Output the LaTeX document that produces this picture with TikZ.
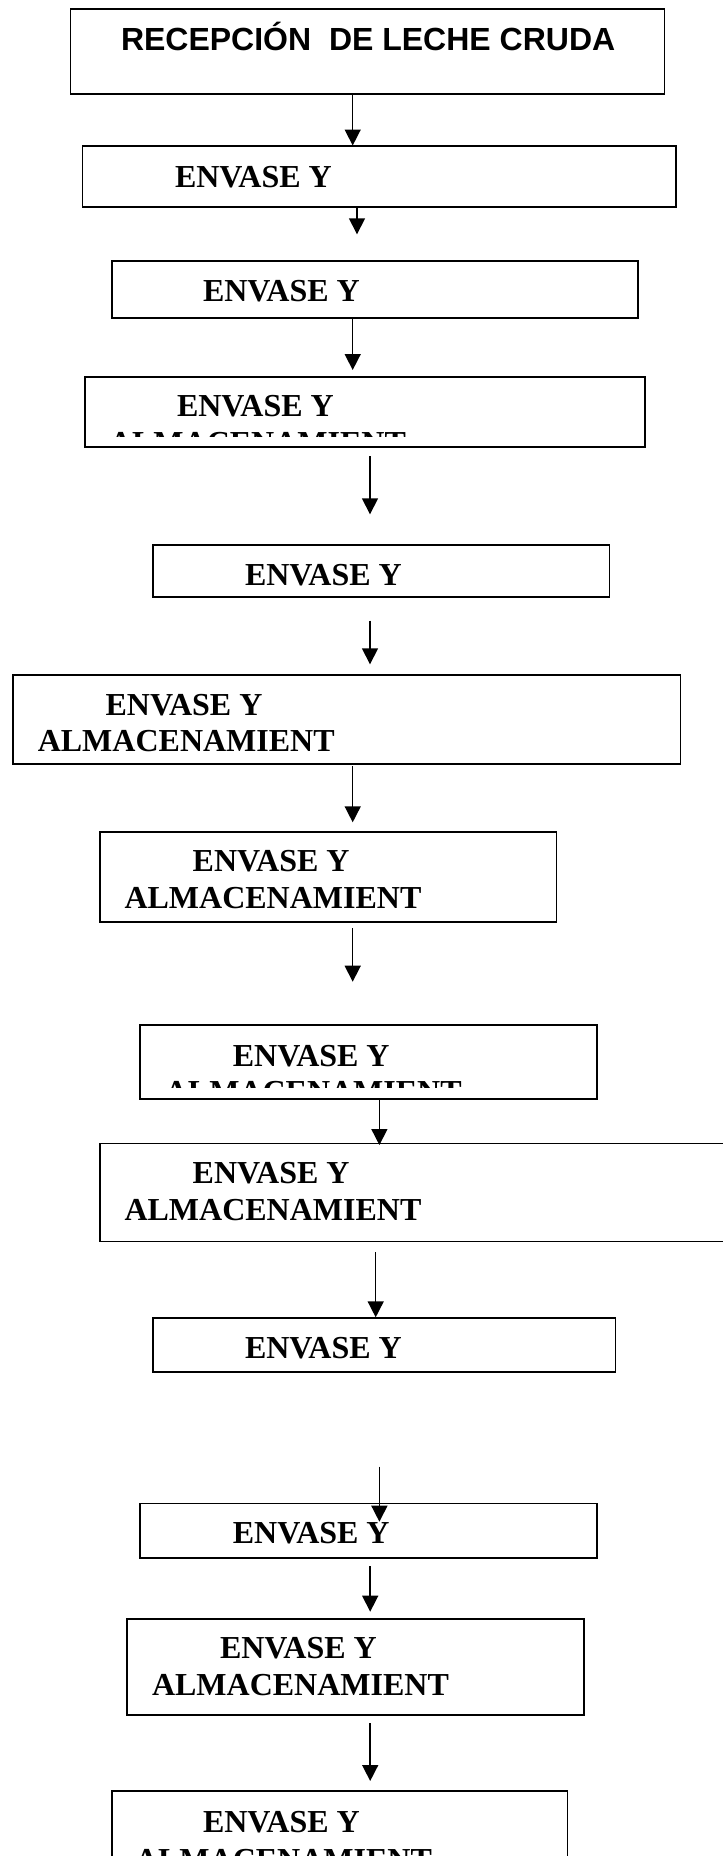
\documentclass[tikz,border=0pt]{standalone}
\usepackage{fontspec}
\setmainfont{Liberation Serif}
\newfontfamily\arialf{Liberation Sans}
\usetikzlibrary{arrows.meta}
\tikzset{
  flowbox/.style={draw=black, line width=1.35pt, rectangle, inner sep=0pt, outer sep=0pt, fill=none},
  serlbl/.style={inner sep=0pt, outer sep=0pt, anchor=base west, font=\fontsize{24pt}{29pt}\selectfont\bfseries},
  sanslbl/.style={inner sep=0pt, outer sep=0pt, anchor=base west, font=\arialf\fontsize{24pt}{29pt}\selectfont\bfseries},
  flowarr/.style={line width=1.15pt, -{Triangle[length=12pt,width=12pt]}}
}
\newcommand\flowboxat[5]{\node[flowbox, anchor=north west, minimum width={(#4-#2)*0.75pt}, minimum height={(#5-#3)*0.75pt}] (#1) at (#2,#3) {};}
\newcommand\flowarrow[4]{\coordinate (#1s) at (#2,#3); \coordinate (#1e) at (#2,#4); \draw[flowarr] (#1s) -- (#1e);}
\begin{document}
\begin{tikzpicture}[x=0.75pt,y=-0.75pt]
\useasboundingbox (0,0) rectangle (723,1856);
% boxes
\flowboxat{b1}{70.5}{9.3}{664.4}{94}
\flowboxat{b2}{82.5}{146}{676}{207}
\flowboxat{b3}{111.6}{260.7}{638}{318.3}
\flowboxat{b4}{85}{376.7}{645}{446.7}
\flowboxat{b5}{153}{545}{609.5}{597.3}
\flowboxat{b6}{13}{674.7}{680.5}{764}
\flowboxat{b7}{100}{832}{556.5}{922}
\flowboxat{b8}{140}{1025.3}{596.6}{1099.3}
\flowboxat{b9}{100}{1143.5}{740}{1241.5}
\flowboxat{b10}{153}{1318}{615.5}{1371.7}
\flowboxat{b11}{140}{1503.5}{596.6}{1557.7}
\flowboxat{b12}{127}{1619}{583.7}{1715}
\flowboxat{b13}{111.6}{1791}{567.5}{1900}
% texts
\node[sanslbl] (t1) at (121,50.5) {RECEPCIÓN~ DE LECHE CRUDA};
\node[serlbl] (t2) at (175,187) {ENVASE Y};
\node[serlbl] (t3) at (203,301.7) {ENVASE Y};
\node[serlbl] (t4) at (177,416.7) {ENVASE Y};
\begin{scope}
  \clip (85,376.7) rectangle (645,436.3);
  \node[serlbl] (t4b) at (109,453.4) {ALMACENAMIENT};
\end{scope}
\node[serlbl] (t5) at (245,585) {ENVASE Y};
\node[serlbl] (t6) at (105.6,715) {ENVASE Y};
\node[serlbl] (t6b) at (37.8,751.7) {ALMACENAMIENT};
\node[serlbl] (t7) at (192.7,871.7) {ENVASE Y};
\node[serlbl] (t7b) at (124.5,908.3) {ALMACENAMIENT};
\node[serlbl] (t8) at (232.8,1066) {ENVASE Y};
\begin{scope}
  \clip (140,1025.3) rectangle (596.6,1087.3);
  \node[serlbl] (t8b) at (164.8,1102.9) {ALMACENAMIENT};
\end{scope}
\node[serlbl] (t9) at (192.7,1183.3) {ENVASE Y};
\node[serlbl] (t9b) at (124.5,1220) {ALMACENAMIENT};
\node[serlbl] (t10) at (245,1358.3) {ENVASE Y};
\node[serlbl] (t11) at (232.8,1543.3) {ENVASE Y};
\node[serlbl] (t12) at (220,1658.3) {ENVASE Y};
\node[serlbl] (t12b) at (152,1695) {ALMACENAMIENT};
\node[serlbl] (t13) at (203,1832) {ENVASE Y};
\node[serlbl] (t13b) at (135,1870) {ALMACENAMIENT};
% arrows
\flowarrow{a1}{352.7}{94}{145.5}
\flowarrow{a2}{357}{207}{234.3}
\flowarrow{a3}{352.7}{318.3}{370}
\flowarrow{a4}{370}{456}{514.3}
\flowarrow{a5}{370}{620.7}{664.3}
\flowarrow{a6}{352.7}{766}{822.3}
\flowarrow{a7}{352.7}{928.3}{981.7}
\flowarrow{a8}{379.4}{1099.3}{1145}
\flowarrow{a9}{375.7}{1252.3}{1317.3}
\flowarrow{a10}{379.4}{1466.7}{1521.7}
\flowarrow{a11}{370.2}{1566}{1611.7}
\flowarrow{a12}{370.2}{1723.3}{1781}
\end{tikzpicture}
\end{document}
